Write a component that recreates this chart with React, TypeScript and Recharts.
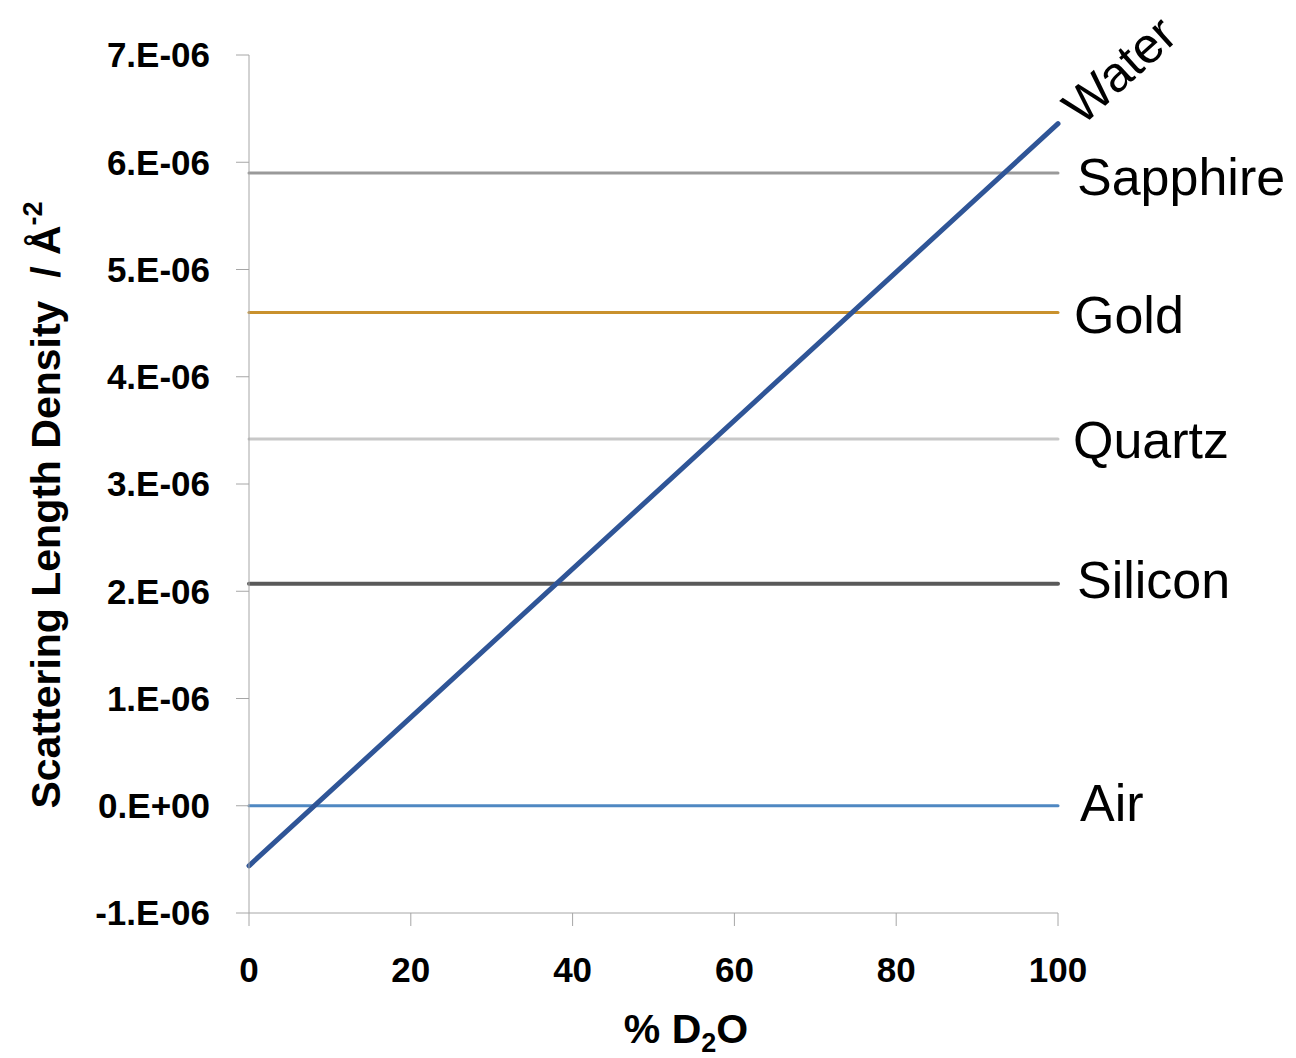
import React from "react";
import { LineChart, Line, XAxis, YAxis, LabelList, Label } from "recharts";

const pctD2O = [0, 100];
const water = [-0.56e-6, 6.36e-6];
const sapphire = [5.9e-6, 5.9e-6];
const gold = [4.6e-6, 4.6e-6];
const quartz = [3.42e-6, 3.42e-6];
const silicon = [2.07e-6, 2.07e-6];
const air = [0, 0];

const xTicks = [0, 20, 40, 60, 80, 100];
const yTicks = [-1e-6, 0, 1e-6, 2e-6, 3e-6, 4e-6, 5e-6, 6e-6, 7e-6];

const data = pctD2O.map((x, i) => ({
  x,
  water: water[i],
  sapphire: sapphire[i],
  gold: gold[i],
  quartz: quartz[i],
  silicon: silicon[i],
  air: air[i],
}));

const FONT = "'Liberation Sans', Arial, sans-serif";
const AXIS_COLOR = "#A6A6A6";

const fmtY = (v: number) => {
  if (v === 0) return "0.E+00";
  const m = Math.round(v * 1e6);
  return `${m}.E-06`;
};

const endLabel =
  (text: string, dx: number, dy: number, rotate = 0, size = 52) =>
  (props: any) => {
    const { x, y, index } = props;
    if (index !== data.length - 1) return null;
    const tx = x + dx;
    const ty = y + dy;
    return (
      <text
        x={tx}
        y={ty}
        fontFamily={FONT}
        fontSize={size}
        fill="#000"
        textAnchor="start"
        dominantBaseline={rotate ? "alphabetic" : "central"}
        transform={rotate ? `rotate(${rotate} ${tx} ${ty})` : undefined}
      >
        {text}
      </text>
    );
  };

const YTitle = (props: any) => {
  const cx = 60;
  const cy = 505;
  return (
    <text
      x={cx}
      y={cy}
      fontFamily={FONT}
      fontWeight="bold"
      fontSize={41}
      fill="#000"
      textAnchor="middle"
      style={{ whiteSpace: "pre" }}
      transform={`rotate(-90 ${cx} ${cy})`}
    >
      {"Scattering Length Density  / Å"}
      <tspan fontSize={27} dy={-18}>
        -2
      </tspan>
    </text>
  );
};

const XTitle = (props: any) => {
  const cx = 686;
  const cy = 1043;
  return (
    <text
      x={cx}
      y={cy}
      fontFamily={FONT}
      fontWeight="bold"
      fontSize={41}
      fill="#000"
      textAnchor="middle"
    >
      {"% D"}
      <tspan fontSize={27} dy={9}>
        2
      </tspan>
      <tspan dy={-9}>O</tspan>
    </text>
  );
};

export default function App() {
  return (
    <div style={{ position: "absolute", left: 0, top: 0, background: "#fff" }}>
      <LineChart
        width={1296}
        height={1058}
        data={data}
        margin={{ top: 55, right: 238, bottom: 0, left: 0 }}
      >
        <XAxis
          dataKey="x"
          type="number"
          domain={[0, 100]}
          ticks={xTicks}
          height={145}
          tickSize={13}
          tickMargin={31}
          stroke={AXIS_COLOR}
          tick={{ fill: "#000", fontFamily: FONT, fontWeight: "bold", fontSize: 35 }}
          tickLine={{ stroke: AXIS_COLOR }}
          axisLine={{ stroke: AXIS_COLOR }}
        >
          <Label content={XTitle} />
        </XAxis>
        <YAxis
          type="number"
          domain={[-1e-6, 7e-6]}
          ticks={yTicks}
          width={249}
          tickSize={13}
          tickMargin={26}
          tickFormatter={fmtY}
          stroke={AXIS_COLOR}
          tick={{ fill: "#000", fontFamily: FONT, fontWeight: "bold", fontSize: 35 }}
          tickLine={{ stroke: AXIS_COLOR }}
          axisLine={{ stroke: AXIS_COLOR }}
        >
          <Label content={YTitle} />
        </YAxis>
        <Line dataKey="air" stroke="#4F88C2" strokeWidth={3} dot={false} isAnimationActive={false} strokeLinecap="round">
          <LabelList dataKey="air" content={endLabel("Air", 22, -3)} />
        </Line>
        <Line dataKey="silicon" stroke="#595959" strokeWidth={4} dot={false} isAnimationActive={false} strokeLinecap="round">
          <LabelList dataKey="silicon" content={endLabel("Silicon", 19, -4)} />
        </Line>
        <Line dataKey="quartz" stroke="#C8C8C8" strokeWidth={3} dot={false} isAnimationActive={false} strokeLinecap="round">
          <LabelList dataKey="quartz" content={endLabel("Quartz", 15, 1)} />
        </Line>
        <Line dataKey="gold" stroke="#C9912D" strokeWidth={3} dot={false} isAnimationActive={false} strokeLinecap="round">
          <LabelList dataKey="gold" content={endLabel("Gold", 16, 3)} />
        </Line>
        <Line dataKey="sapphire" stroke="#999999" strokeWidth={3} dot={false} isAnimationActive={false} strokeLinecap="round">
          <LabelList dataKey="sapphire" content={endLabel("Sapphire", 19, 4)} />
        </Line>
        <Line dataKey="water" stroke="#2F5597" strokeWidth={5} dot={false} isAnimationActive={false} strokeLinecap="round">
          <LabelList dataKey="water" content={endLabel("Water", 24, 3, -42, 50)} />
        </Line>
      </LineChart>
    </div>
  );
}
